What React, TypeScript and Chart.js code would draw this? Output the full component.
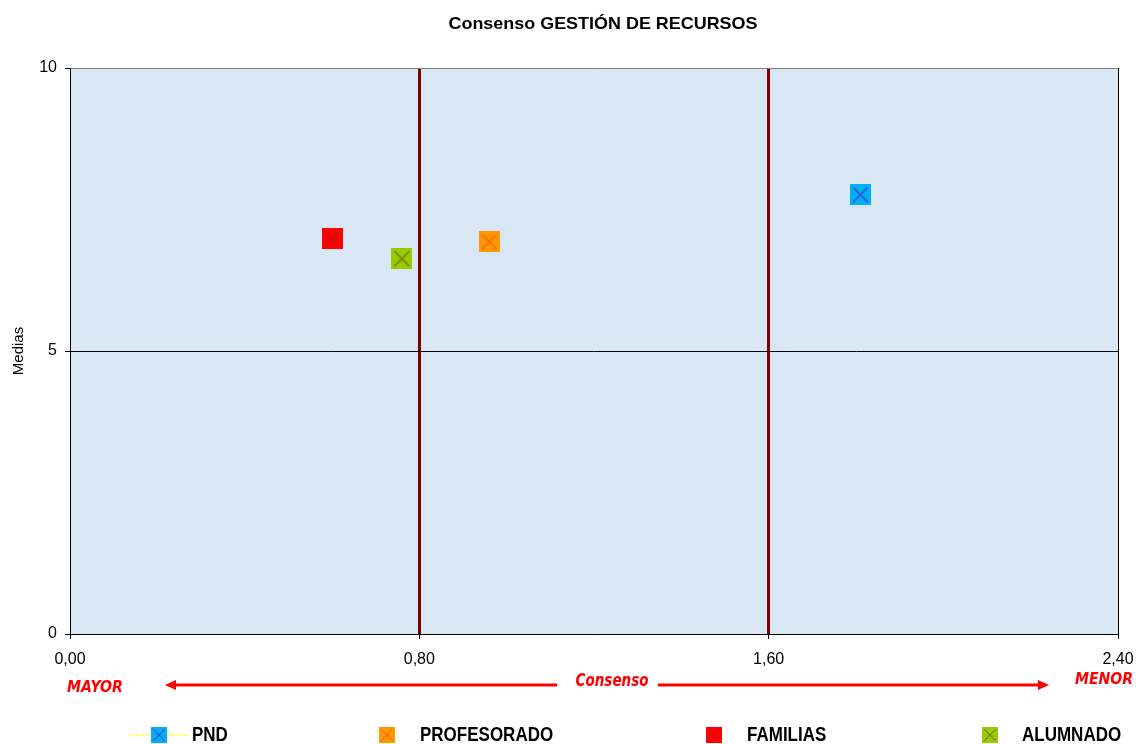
import React, { useEffect, useRef } from 'react';
import { Chart, registerables } from 'chart.js';
Chart.register(...registerables);

const W = 1140;
const H = 744;

// ---- data ----
const seriesNames = ['PND', 'PROFESORADO', 'FAMILIAS', 'ALUMNADO'];
const consensoValues = [1.81, 0.96, 0.6, 0.76];
const mediaValues = [7.76, 6.93, 6.98, 6.63];
const xTickValues = [0, 0.8, 1.6, 2.4];
const yTickValues = [0, 5, 10];
const fillColors = ['#00b0f0', '#ff9900', '#ff0000', '#99cc00'];
const crossColors = ['#3355dd', '#ff6a00', '#cc1010', '#808000'];
const titleText = 'Consenso GESTIÓN DE RECURSOS';
const yTitle = 'Medias';
const xAxisCaption = 'Consenso';
const leftCaption = 'MAYOR';
const rightCaption = 'MENOR';

function makeMarker(fill: string, cross: string, size: number) {
  const c = document.createElement('canvas');
  c.width = size;
  c.height = size;
  const g = c.getContext('2d')!;
  g.fillStyle = fill;
  g.fillRect(0, 0, size, size);
  g.strokeStyle = cross;
  g.lineWidth = Math.max(1, size / 12);
  const a = size * 0.15, b = size * 0.85;
  g.beginPath();
  g.moveTo(a, a); g.lineTo(b, b);
  g.moveTo(b, a); g.lineTo(a, b);
  g.stroke();
  return c;
}

const fmt = (v: number) => v.toFixed(2).replace('.', ',');

// draw text centered at (cx, cy), squeezed/stretched to given width and vertical scale
function drawFit(ctx: CanvasRenderingContext2D, text: string, cx: number, cy: number, width: number, sy: number) {
  const w = ctx.measureText(text).width;
  ctx.save();
  ctx.translate(cx, cy);
  ctx.scale(width / w, sy);
  ctx.textAlign = 'center';
  ctx.textBaseline = 'middle';
  ctx.fillText(text, 0, 0);
  ctx.restore();
}

export default function App() {
  const ref = useRef<HTMLCanvasElement>(null);
  useEffect(() => {
    const bigMarkers = seriesNames.map((_, i) => makeMarker(fillColors[i], crossColors[i], 21));
    const smallMarkers = seriesNames.map((_, i) => makeMarker(fillColors[i], crossColors[i], 16));

    const decor = {
      id: 'decor',
      beforeDraw(chart: any) {
        const { ctx, chartArea: a } = chart;
        ctx.save();
        ctx.fillStyle = '#ffffff';
        ctx.fillRect(0, 0, W, H);
        ctx.fillStyle = '#d9e7f4';
        ctx.fillRect(a.left, a.top, a.right - a.left, a.bottom - a.top);
        ctx.restore();
      },
      afterDraw(chart: any) {
        const { ctx } = chart;
        ctx.save();
        // title
        ctx.fillStyle = '#000';
        ctx.font = 'bold 17px "Liberation Sans", Arial, sans-serif';
        drawFit(ctx, titleText, 603, 24, 309, 1);
        // y title
        ctx.save();
        ctx.translate(19, 351);
        ctx.rotate(-Math.PI / 2);
        ctx.font = '15px "Liberation Sans", Arial, sans-serif';
        ctx.textAlign = 'center';
        ctx.textBaseline = 'middle';
        ctx.fillText(yTitle, 0, 0);
        ctx.restore();
        // consenso arrows
        ctx.strokeStyle = '#ff0000';
        ctx.fillStyle = '#ff0000';
        ctx.lineWidth = 3;
        const ay = 685;
        ctx.beginPath();
        ctx.moveTo(172, ay); ctx.lineTo(557, ay);
        ctx.moveTo(658, ay); ctx.lineTo(1040, ay);
        ctx.stroke();
        ctx.beginPath();
        ctx.moveTo(165, ay); ctx.lineTo(176, ay - 5); ctx.lineTo(176, ay + 5); ctx.closePath();
        ctx.fill();
        ctx.beginPath();
        ctx.moveTo(1049, ay); ctx.lineTo(1038, ay - 5); ctx.lineTo(1038, ay + 5); ctx.closePath();
        ctx.fill();
        ctx.font = 'italic bold 17px "DejaVu Sans", sans-serif';
        drawFit(ctx, xAxisCaption, 612, 682, 73, 1);
        ctx.font = 'italic bold 16px "DejaVu Sans", sans-serif';
        drawFit(ctx, leftCaption, 95, 688, 56, 1);
        drawFit(ctx, rightCaption, 1104, 680, 58, 1);
        // legend
        const markerX = [159, 387, 714, 990];
        const textX = [192, 420, 747, 1022];
        const ly = 735;
        // dotted yellow line behind PND
        ctx.strokeStyle = '#ffff66';
        ctx.lineWidth = 2;
        ctx.setLineDash([2, 1]);
        ctx.beginPath();
        ctx.moveTo(130, ly); ctx.lineTo(190, ly);
        ctx.stroke();
        ctx.setLineDash([]);
        ctx.font = 'bold 17px "Liberation Sans", Arial, sans-serif';
        ctx.fillStyle = '#000';
        chart.data.datasets.forEach((ds: any, i: number) => {
          ctx.drawImage(smallMarkers[i], markerX[i] - 8, ly - 8);
          ctx.save();
          ctx.translate(textX[i], ly);
          ctx.scale(1, 1.2);
          ctx.textAlign = 'left';
          ctx.textBaseline = 'middle';
          ctx.fillText(ds.label, 0, 0);
          ctx.restore();
        });
        ctx.restore();
      },
    };

    const chart = new Chart(ref.current!, {
      type: 'scatter',
      data: {
        datasets: seriesNames.map((name, i) => ({
          label: name,
          data: [{ x: consensoValues[i], y: mediaValues[i] }],
          pointStyle: bigMarkers[i] as any,
          pointRadius: 10,
          backgroundColor: fillColors[i],
          borderColor: crossColors[i],
        })),
      },
      options: {
        animation: false,
        responsive: false,
        maintainAspectRatio: false,
        layout: { padding: { top: 68, right: 22, bottom: 0, left: 0 } },
        plugins: { legend: { display: false }, title: { display: false }, tooltip: { enabled: false } },
        scales: {
          x: {
            type: 'linear',
            min: 0,
            max: 2.4,
            afterBuildTicks: (s: any) => { s.ticks = xTickValues.map((value) => ({ value })); },
            afterFit: (s: any) => { s.height = H - 634; s.paddingLeft = 0; s.paddingRight = 0; },
            ticks: {
              callback: (v: any) => fmt(Number(v)),
              color: '#000',
              font: { family: '"Liberation Sans", Arial, sans-serif', size: 16 },
              padding: 11,
              maxRotation: 0,
              autoSkip: false,
            },
            grid: {
              color: (c: any) => {
                const v = c.tick ? c.tick.value : 0;
                return Math.abs(v - 0.8) < 1e-6 || Math.abs(v - 1.6) < 1e-6 ? '#800000' : '#000';
              },
              lineWidth: (c: any) => {
                const v = c.tick ? c.tick.value : 0;
                return Math.abs(v - 0.8) < 1e-6 || Math.abs(v - 1.6) < 1e-6 ? 3 : 1;
              },
              tickColor: '#000',
              tickWidth: 1,
              tickLength: 5,
            },
            border: { display: true, color: '#000', width: 1 },
          },
          y: {
            type: 'linear',
            min: 0,
            max: 10,
            afterBuildTicks: (s: any) => { s.ticks = yTickValues.map((value) => ({ value })); },
            afterFit: (s: any) => { s.width = 70; s.paddingTop = 0; s.paddingBottom = 0; },
            ticks: {
              color: '#000',
              font: { family: '"Liberation Sans", Arial, sans-serif', size: 16 },
              padding: 8,
              autoSkip: false,
            },
            grid: {
              color: (c: any) => (c.tick && c.tick.value === 10 ? '#808080' : '#000'),
              lineWidth: 1,
              tickColor: '#000',
              tickWidth: 1,
              tickLength: 5,
            },
            border: { display: true, color: '#000', width: 1 },
          },
        },
      },
      plugins: [decor],
    });
    return () => chart.destroy();
  }, []);
  return (
    <div style={{ position: 'fixed', left: 0, top: 0, width: W, height: H }}>
      <canvas ref={ref} width={W} height={H} style={{ width: W, height: H, display: 'block' }} />
    </div>
  );
}
